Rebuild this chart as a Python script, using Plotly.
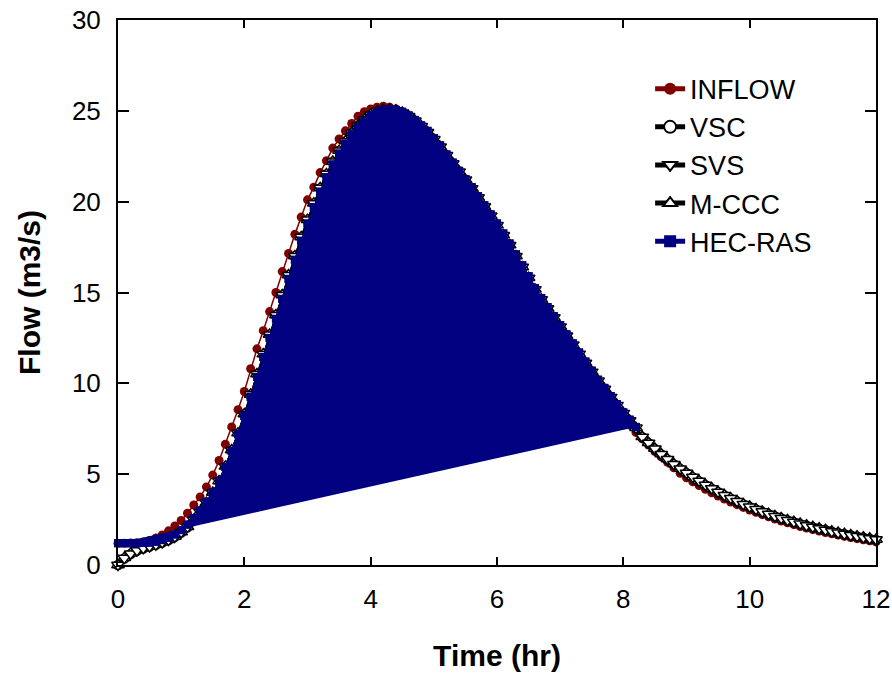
import numpy as np
import plotly.graph_objects as go

# time axis (hr), 0.1 hr steps
time_hr = [round(0.1 * i, 1) for i in range(121)]
hec_time_hr = time_hr[:83]

inflow = [
    1.20, 1.20, 1.21, 1.23, 1.27, 1.35, 1.48, 1.65, 1.88, 2.15,
    2.45, 2.85, 3.30, 3.75, 4.30, 4.95, 5.75, 6.65, 7.60, 8.55,
    9.55, 10.80, 11.90, 12.90, 13.95, 15.00, 16.15, 17.15, 18.20, 19.15,
    20.10, 20.80, 21.60, 22.25, 22.95, 23.45, 23.90, 24.30, 24.70, 24.95,
    25.10, 25.20, 25.25, 25.20, 25.10, 24.90, 24.65, 24.35, 24.00, 23.60,
    23.20, 22.75, 22.30, 21.85, 21.40, 20.95, 20.45, 19.95, 19.45, 18.95,
    18.40, 17.85, 17.25, 16.65, 16.05, 15.45, 14.85, 14.30, 13.80, 13.30,
    12.80, 12.30, 11.80, 11.30, 10.80, 10.30, 9.85, 9.40, 8.95, 8.50,
    8.10, 7.70, 7.30, 6.95, 6.60, 6.25, 5.95, 5.65, 5.35, 5.05,
    4.80, 4.58, 4.37, 4.17, 3.98, 3.80, 3.63, 3.47, 3.32, 3.17,
    3.03, 2.90, 2.77, 2.65, 2.53, 2.42, 2.32, 2.22, 2.12, 2.03,
    1.95, 1.87, 1.79, 1.72, 1.65, 1.58, 1.51, 1.45, 1.39, 1.33,
    1.27,
]

vsc = [
    0.00, 0.35, 0.60, 0.78, 0.91, 1.01, 1.11, 1.23, 1.37, 1.55,
    1.78, 2.08, 2.46, 2.90, 3.40, 3.96, 4.60, 5.40, 6.30, 7.23,
    8.28, 9.36, 10.48, 11.58, 12.66, 13.73, 14.83, 15.93, 16.98, 18.03,
    18.98, 19.88, 20.73, 21.50, 22.18, 22.78, 23.31, 23.78, 24.16, 24.50,
    24.76, 24.94, 25.03, 25.06, 25.00, 24.88, 24.68, 24.43, 24.13, 23.80,
    23.41, 23.00, 22.53, 22.08, 21.63, 21.18, 20.71, 20.21, 19.71, 19.20,
    18.68, 18.13, 17.58, 16.98, 16.38, 15.78, 15.15, 14.60, 14.10, 13.60,
    13.10, 12.60, 12.10, 11.60, 11.10, 10.61, 10.12, 9.67, 9.22, 8.78,
    8.34, 7.93, 7.53, 7.03, 6.70, 6.38, 6.08, 5.80, 5.53, 5.28,
    5.05, 4.82, 4.60, 4.39, 4.19, 4.00, 3.82, 3.65, 3.49, 3.33,
    3.19, 3.05, 2.92, 2.79, 2.67, 2.56, 2.45, 2.35, 2.25, 2.16,
    2.07, 1.99, 1.91, 1.83, 1.76, 1.69, 1.62, 1.56, 1.50, 1.44,
    1.38,
]

svs = [
    0.00, 0.38, 0.62, 0.80, 0.92, 1.02, 1.12, 1.24, 1.38, 1.56,
    1.80, 2.10, 2.48, 2.92, 3.42, 3.98, 4.62, 5.42, 6.32, 7.25,
    8.30, 9.38, 10.50, 11.60, 12.68, 13.75, 14.85, 15.95, 17.00, 18.05,
    19.00, 19.90, 20.75, 21.52, 22.20, 22.80, 23.33, 23.80, 24.18, 24.52,
    24.78, 24.96, 25.05, 25.08, 25.02, 24.90, 24.70, 24.45, 24.15, 23.82,
    23.43, 23.02, 22.55, 22.10, 21.65, 21.20, 20.73, 20.23, 19.73, 19.22,
    18.70, 18.15, 17.60, 17.00, 16.40, 15.80, 15.17, 14.62, 14.12, 13.62,
    13.12, 12.62, 12.12, 11.62, 11.12, 10.63, 10.14, 9.69, 9.24, 8.80,
    8.36, 7.95, 7.55, 7.05, 6.72, 6.40, 6.10, 5.82, 5.55, 5.30,
    5.07, 4.84, 4.62, 4.41, 4.21, 4.02, 3.84, 3.67, 3.51, 3.35,
    3.21, 3.07, 2.94, 2.81, 2.69, 2.58, 2.47, 2.37, 2.27, 2.18,
    2.09, 2.01, 1.93, 1.85, 1.78, 1.71, 1.64, 1.58, 1.52, 1.46,
    1.40,
]

mccc = [
    0.00, 0.40, 0.64, 0.82, 0.93, 1.03, 1.13, 1.25, 1.39, 1.57,
    1.81, 2.11, 2.49, 2.93, 3.43, 3.99, 4.63, 5.43, 6.33, 7.26,
    8.31, 9.39, 10.51, 11.61, 12.69, 13.76, 14.86, 15.96, 17.01, 18.06,
    19.01, 19.91, 20.76, 21.53, 22.21, 22.81, 23.34, 23.81, 24.19, 24.53,
    24.79, 24.97, 25.06, 25.09, 25.03, 24.91, 24.71, 24.46, 24.16, 23.83,
    23.44, 23.03, 22.56, 22.11, 21.66, 21.21, 20.74, 20.24, 19.74, 19.23,
    18.71, 18.16, 17.61, 17.01, 16.41, 15.81, 15.18, 14.63, 14.13, 13.63,
    13.13, 12.63, 12.13, 11.63, 11.13, 10.64, 10.15, 9.70, 9.25, 8.81,
    8.37, 7.96, 7.56, 7.06, 6.73, 6.41, 6.11, 5.83, 5.56, 5.31,
    5.08, 4.85, 4.63, 4.42, 4.22, 4.03, 3.85, 3.68, 3.52, 3.36,
    3.22, 3.08, 2.95, 2.82, 2.70, 2.59, 2.48, 2.38, 2.28, 2.19,
    2.10, 2.02, 1.94, 1.86, 1.79, 1.72, 1.65, 1.59, 1.53, 1.47,
    1.41,
]

hec_ras = [
    1.20, 1.20, 1.20, 1.20, 1.21, 1.23, 1.28, 1.37, 1.50, 1.68,
    1.92, 2.22, 2.58, 3.00, 3.48, 4.00, 4.62, 5.40, 6.28, 7.20,
    8.20, 9.25, 10.35, 11.45, 12.50, 13.55, 14.65, 15.75, 16.80, 17.85,
    18.80, 19.70, 20.55, 21.35, 22.05, 22.65, 23.20, 23.70, 24.10, 24.45,
    24.75, 24.95, 25.05, 25.10, 25.05, 24.95, 24.75, 24.50, 24.20, 23.90,
    23.50, 23.10, 22.60, 22.15, 21.70, 21.25, 20.80, 20.30, 19.80, 19.30,
    18.80, 18.25, 17.70, 17.10, 16.50, 15.90, 15.25, 14.70, 14.20, 13.70,
    13.20, 12.70, 12.20, 11.70, 11.20, 10.70, 10.20, 9.75, 9.30, 8.85,
    8.40, 8.00, 7.60,
]

x_ticks = [0, 2, 4, 6, 8, 10, 12]
y_ticks = [0, 5, 10, 15, 20, 25, 30]

RED = "#800000"
NAVY = "#000080"
FONT = "Liberation Sans, Arial, sans-serif"

fig = go.Figure()

fig.add_trace(go.Scatter(
    x=time_hr, y=inflow, name="INFLOW", mode="lines+markers",
    line=dict(color=RED, width=1.5),
    marker=dict(symbol="circle", size=9, color=RED),
    legendrank=1, cliponaxis=False))
fig.add_trace(go.Scatter(
    x=time_hr, y=vsc, name="VSC", mode="lines+markers",
    line=dict(color="black", width=1.5),
    marker=dict(symbol="circle", size=9, color="white", line=dict(color="black", width=1.5)),
    legendrank=2, cliponaxis=False))
fig.add_trace(go.Scatter(
    x=time_hr, y=mccc, name="M-CCC", mode="lines+markers",
    line=dict(color="black", width=1.5),
    marker=dict(symbol="triangle-up", size=11, color="white", line=dict(color="black", width=1.5)),
    legendrank=4, cliponaxis=False))
fig.add_trace(go.Scatter(
    x=time_hr, y=svs, name="SVS", mode="lines+markers",
    line=dict(color="black", width=1.5),
    marker=dict(symbol="triangle-down", size=11, color="white", line=dict(color="black", width=1.5)),
    legendrank=3, cliponaxis=False))
fig.add_trace(go.Scatter(
    x=hec_time_hr, y=hec_ras, name="HEC-RAS", mode="lines+markers",
    fill="toself", fillcolor=NAVY,
    line=dict(color=NAVY, width=1.5),
    marker=dict(symbol="square", size=8, color=NAVY),
    showlegend=False, cliponaxis=False))
fig.add_trace(go.Scatter(
    x=hec_time_hr, y=hec_ras, name="HEC-RAS", mode="lines+markers",
    line=dict(color=NAVY, width=1.5),
    marker=dict(symbol="square", size=8, color=NAVY),
    legendrank=5, cliponaxis=False))

axis_common = dict(
    showline=True, linecolor="black", linewidth=2, mirror="ticks",
    ticks="inside", tickcolor="black", tickwidth=2,
    showgrid=False, zeroline=False, automargin=False,
    ticklabeloverflow="allow",
    tickfont=dict(family=FONT, size=26, color="black"),
)

fig.update_xaxes(range=[0, 12], tickvals=x_ticks, ticklen=8, ticklabelstandoff=10,
                 title=dict(text="<b>Time (hr)</b>", font=dict(family=FONT, size=30, color="black"), standoff=32),
                 **axis_common)
fig.update_yaxes(range=[0, 30], tickvals=y_ticks, ticklen=11, ticklabelstandoff=10,
                 title=dict(text="<b>Flow (m3/s)</b>", font=dict(family=FONT, size=30, color="black"), standoff=22),
                 **axis_common)

fig.update_layout(
    width=892, height=674,
    margin=dict(l=118, r=16, t=20, b=109, autoexpand=False),
    plot_bgcolor="white", paper_bgcolor="white",
    font=dict(family=FONT, color="black"),
    legend=dict(x=0.702, y=0.918, xanchor="left", yanchor="top",
                bgcolor="rgba(0,0,0,0)", borderwidth=0,
                font=dict(family=FONT, size=27, color="black"),
                itemsizing="constant", tracegroupgap=0),
    showlegend=True,
)

# remove the default 8px page margin so the 892x674 figure fills the window exactly
fig.write_html("out.html",
               config={"displayModeBar": False},
               post_script="document.body.style.margin='0';document.body.style.overflow='hidden';")
